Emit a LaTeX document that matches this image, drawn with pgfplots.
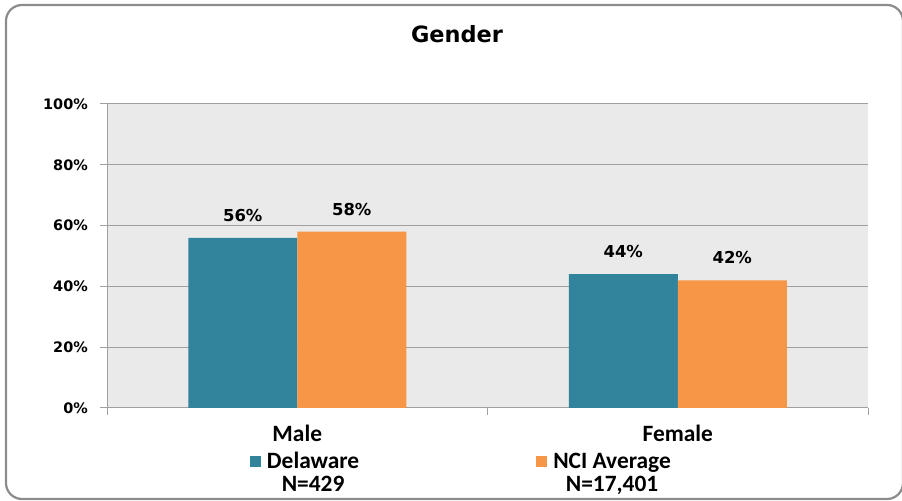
\documentclass[border=0pt]{standalone}
\usepackage{fontspec}
\setmainfont{DejaVu Sans}
\newfontfamily\calfont{Carlito}
\usepackage{pgfplots}
\pgfplotsset{compat=1.18}
\definecolor{tealbar}{HTML}{31849B}
\definecolor{orangebar}{HTML}{F79646}
\definecolor{bggray}{HTML}{EAEAEA}
\definecolor{gridgray}{HTML}{A0A0A0}
\definecolor{framegray}{HTML}{8C8C8C}
\begin{document}
\begin{tikzpicture}[x=1bp,y=1bp]
\useasboundingbox (0,0) rectangle (902,501);
\draw[line width=2.2bp, framegray, rounded corners=16bp] (6,496) rectangle (903,2);
\node[font=\fontsize{22.5}{26}\selectfont\bfseries, anchor=base] at (457,458) {Gender};
\begin{axis}[
  at={(107bp,93bp)}, anchor=south west,
  width=761bp, height=304bp, scale only axis,
  ymin=0, ymax=100, xmin=-0.5, xmax=1.5,
  axis background/.style={fill=bggray},
  ybar=0pt, bar width=109bp,
  /pgf/number format/assume math mode=true,
  ytick={0,20,40,60,80,100},
  yticklabel={\pgfmathprintnumber{\tick}\%},
  yticklabel style={font=\fontsize{14.5}{17}\selectfont\bfseries, inner sep=0pt, xshift=-12bp},
  ymajorgrids, grid style={gridgray, line width=1bp},
  xtick={0,1}, xticklabels={Male,Female},
  xticklabel style={font=\calfont\bfseries\fontsize{23.5}{27}\selectfont, inner sep=0pt, yshift=-10bp},
  minor xtick={-0.5,0.5,1.5},
  every major x tick/.append style={draw=none},
  axis x line*=bottom, axis y line*=left,
  axis line style={gridgray, line width=1bp, -},
  tick style={gridgray, line width=1bp},
  tick align=outside, major tick length=7bp, minor tick length=7bp,
  nodes near coords={\pgfmathprintnumber{\pgfplotspointmeta}\%},
  every node near coord/.append style={font=\fontsize{16.5}{19}\selectfont\bfseries, black, inner sep=0pt, yshift=16.5bp, anchor=base},
  legend style={at={(axis description cs:0.1879,-0.1579)}, anchor=north west, draw=none, fill=none,
    inner sep=0pt, outer sep=0pt, font=\calfont\bfseries\fontsize{23.5}{27}\selectfont,
    nodes={inner sep=0pt},
    /tikz/every odd column/.append style={column sep=6bp},
    /tikz/every even column/.append style={column sep=177bp}},
  legend columns=2, legend cell align=left,
  legend image code/.code={\fill[#1] (0bp,2bp) rectangle (11bp,13bp);},
]
\addplot[fill=tealbar, draw=none] coordinates {(0,56) (1,44)};
\addlegendentry{\smash{\begin{tabular}[t]{@{}c@{}}Delaware\\[-4bp]N=429\end{tabular}}}
\addplot[fill=orangebar, draw=none] coordinates {(0,58) (1,42)};
\addlegendentry{\smash{\begin{tabular}[t]{@{}c@{}}NCI Average\\[-4bp]N=17,401\end{tabular}}}
\end{axis}
\end{tikzpicture}
\end{document}
